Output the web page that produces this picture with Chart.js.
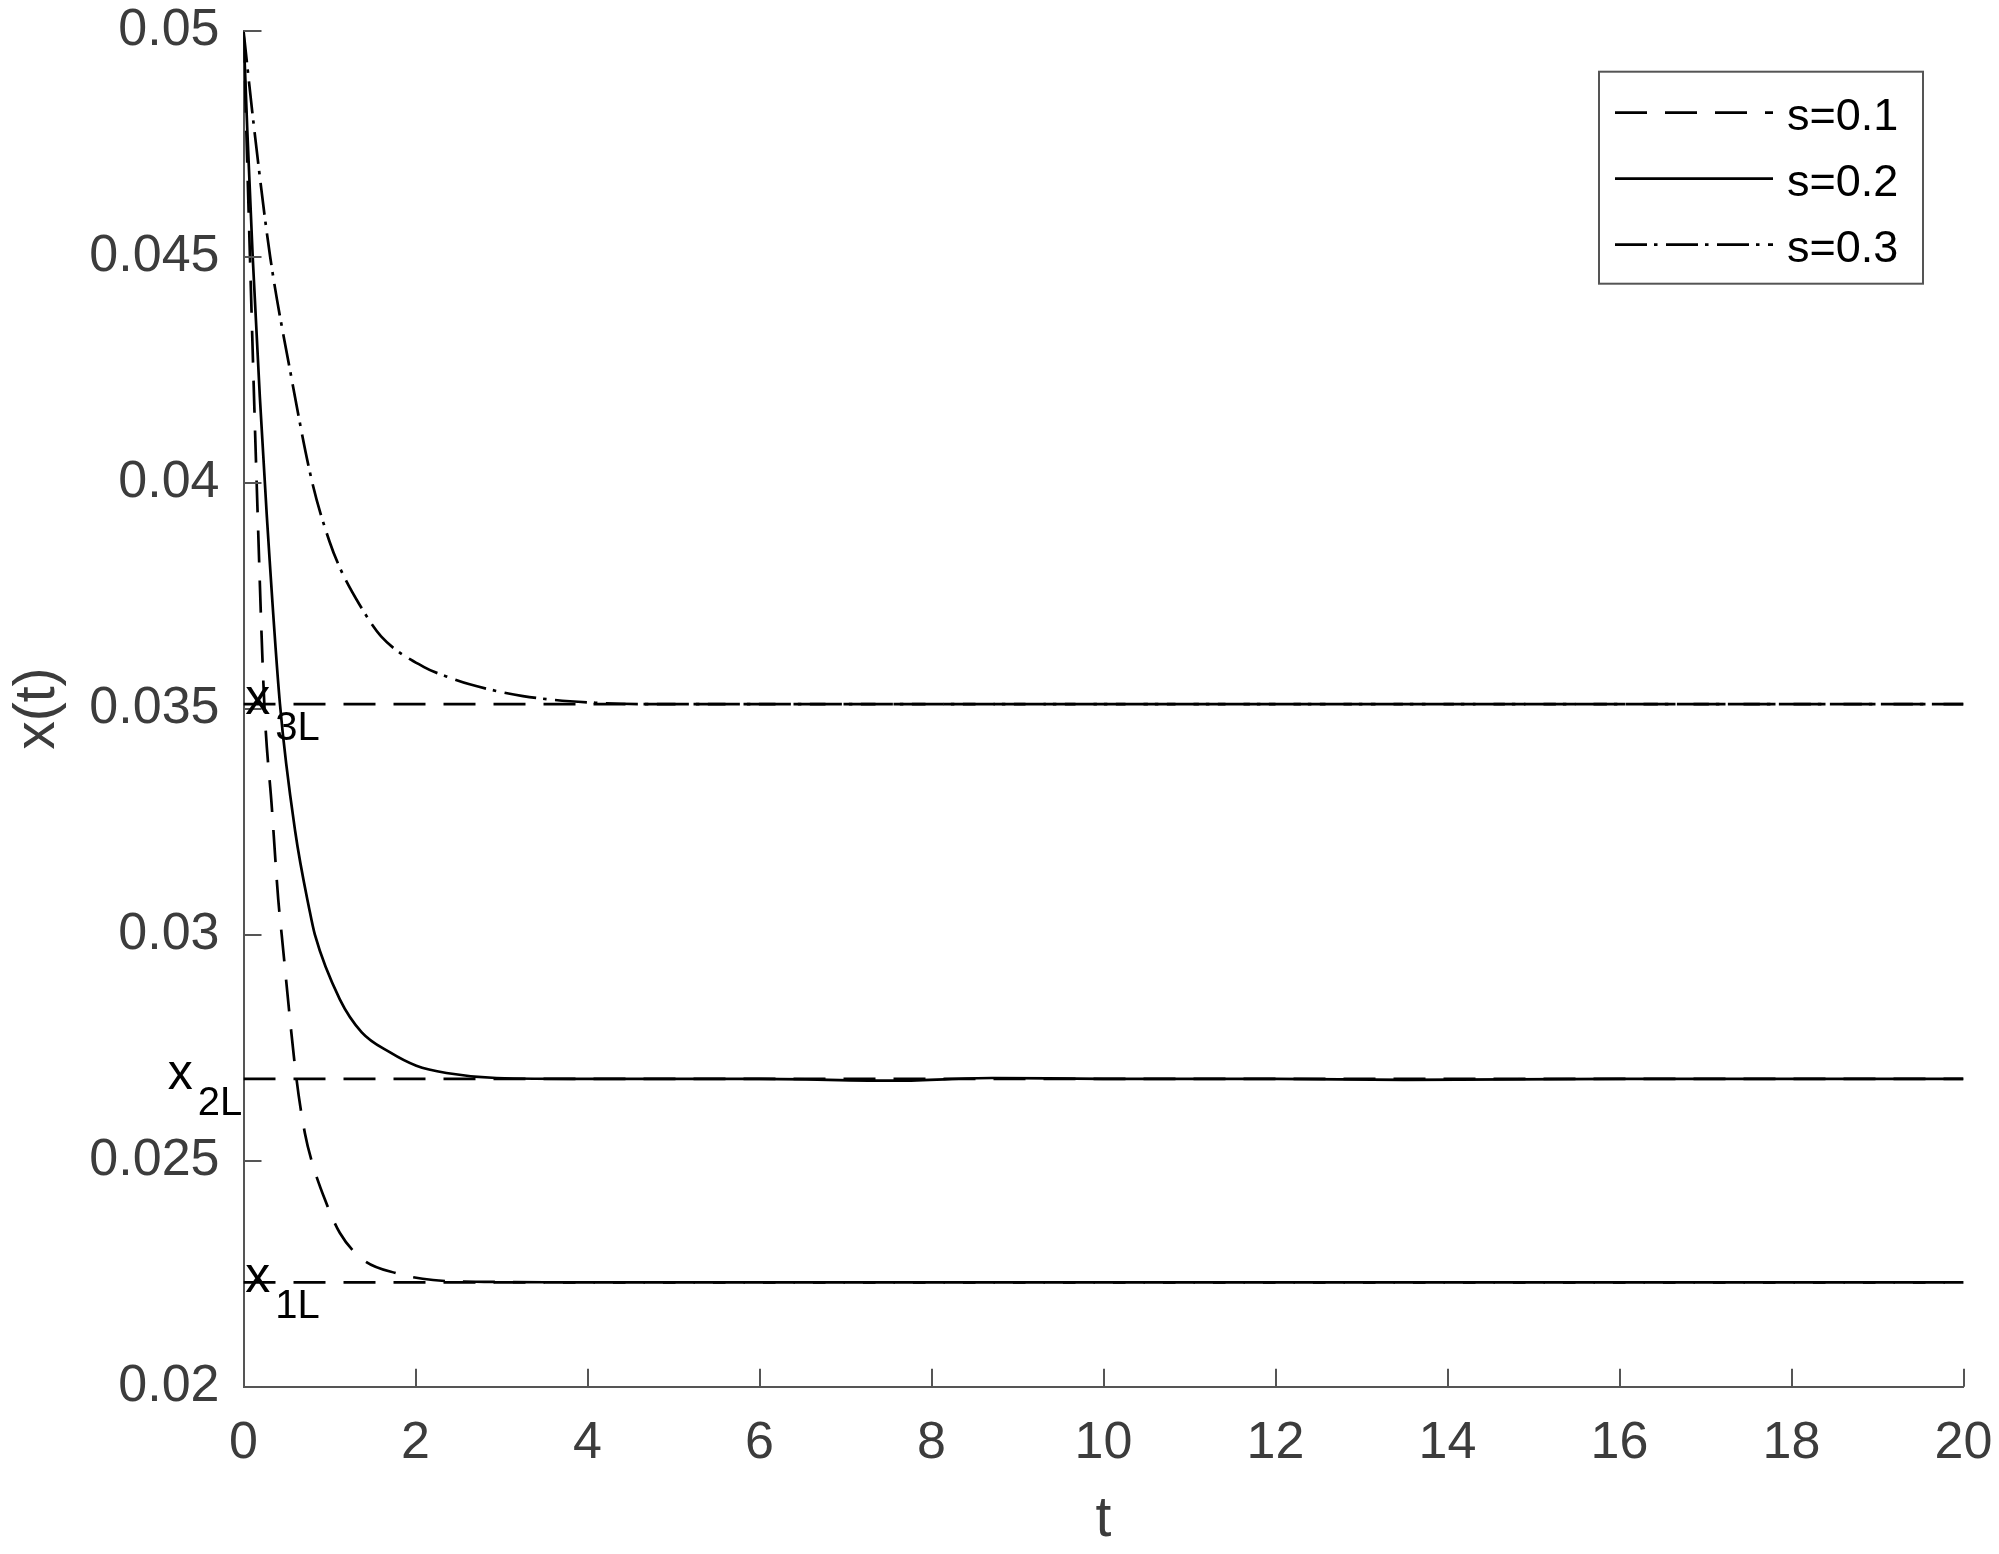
<!DOCTYPE html>
<html>
<head>
<meta charset="utf-8">
<script src="https://cdn.jsdelivr.net/npm/chart.js@4.4.0/dist/chart.umd.min.js"></script>
<style>
html, body { margin: 0; padding: 0; background: #fff; }
#wrap { width: 1999px; height: 1554px; }
</style>
</head>
<body>
<div id="wrap"><canvas id="myChart" width="1999" height="1554"></canvas></div>
<script>
// readings taken off the figure: t and x(t) for each s
const t01 = [0, 0.075, 0.153, 0.242, 0.33, 0.404, 0.444, 0.616, 0.714, 0.792, 0.947, 1.121, 1.391, 1.779, 2.204, 2.8, 4, 6, 8, 10, 12, 14, 16, 18, 20];
const x01 = [0.05, 0.045, 0.04, 0.0351, 0.0328, 0.03078, 0.0300, 0.02681, 0.02561, 0.0250, 0.02414, 0.0234, 0.02281, 0.02251, 0.02236, 0.02232, 0.02231, 0.02231, 0.02231, 0.02231, 0.02231, 0.02231, 0.02231, 0.02231, 0.02231];

const t02 = [0, 0.044, 0.107, 0.19, 0.27, 0.424, 0.6, 0.772, 0.83, 1.12, 1.375, 1.70, 2.01, 2.36, 2.94, 4, 6, 7.6, 8.7, 10, 12, 13.5, 16, 18, 20];
const x02 = [0.05, 0.0478, 0.045, 0.0419, 0.0393, 0.0351, 0.0323, 0.0305, 0.0300, 0.02857, 0.02784, 0.0274, 0.0271, 0.02694, 0.02683, 0.02681, 0.02681, 0.02677, 0.02683, 0.02681, 0.02681, 0.02679, 0.02681, 0.02681, 0.02681];

const t03 = [0, 0.12, 0.31, 0.54, 0.80, 1.0, 1.125, 1.35, 1.6, 2.1, 2.35, 2.63, 3.25, 4.1, 5, 6, 8, 10, 12, 14, 16, 18, 20];
const x03 = [0.05, 0.0479, 0.045, 0.0425, 0.0400, 0.0387, 0.0381, 0.0373, 0.0366, 0.03592, 0.03572, 0.03554, 0.03528, 0.03513, 0.0351, 0.0351, 0.0351, 0.0351, 0.0351, 0.0351, 0.0351, 0.0351, 0.0351];

const seriesNames = ['s=0.1', 's=0.2', 's=0.3'];

// steady levels x1L, x2L, x3L
const limitNames = ['1L', '2L', '3L'];
const limitValues = [0.02231, 0.02681, 0.0351];
const limitSpan = [0, 20];
const limitLabelT = [0.02, -0.88, 0.02];

const xTicks = [0, 2, 4, 6, 8, 10, 12, 14, 16, 18, 20];
const yTicks = [0.02, 0.025, 0.03, 0.035, 0.04, 0.045, 0.05];
const yTickLabels = ['0.02', '0.025', '0.03', '0.035', '0.04', '0.045', '0.05'];

const FONT = '"Liberation Sans", Arial, sans-serif';
const DASH = [32, 18];
const DASHDOT = [32, 7, 3.5, 8.5];
const LW = 2.7;

function toPoints(ts, vs) {
    return ts.map((t, i) => ({x: t, y: vs[i]}));
}

var datasets = [];
limitValues.forEach((v) => {
    datasets.push({
        label: '',
        data: limitSpan.map((t) => ({x: t, y: v})),
        borderColor: '#000',
        borderWidth: LW,
        borderDash: DASH,
        pointRadius: 0,
        isLimit: true
    });
});
[[t01, x01, DASH], [t02, x02, []], [t03, x03, DASHDOT]].forEach((s, i) => {
    datasets.push({
        label: seriesNames[i],
        data: toPoints(s[0], s[1]),
        borderColor: '#000',
        borderWidth: LW,
        borderDash: s[2],
        pointRadius: 0,
        cubicInterpolationMode: 'monotone'
    });
});

const axisDecor = {
    id: 'axisDecor',
    afterDatasetsDraw(chart) {
        const ctx = chart.ctx;
        const xs = chart.scales.x, ys = chart.scales.y;
        const area = chart.chartArea;
        ctx.save();
        // inward tick marks
        ctx.strokeStyle = '#555';
        ctx.lineWidth = 2;
        ctx.setLineDash([]);
        ctx.beginPath();
        xTicks.forEach((v) => {
            const px = Math.round(xs.getPixelForValue(v));
            ctx.moveTo(px, area.bottom);
            ctx.lineTo(px, area.bottom - 18);
        });
        yTicks.forEach((v) => {
            const py = Math.round(ys.getPixelForValue(v));
            ctx.moveTo(area.left, py);
            ctx.lineTo(area.left + 18, py);
        });
        ctx.stroke();

        // x_1L, x_2L, x_3L labels
        ctx.fillStyle = '#000';
        ctx.textAlign = 'left';
        ctx.textBaseline = 'alphabetic';
        limitValues.forEach((v, i) => {
            const px = xs.getPixelForValue(limitLabelT[i]);
            const py = ys.getPixelForValue(v);
            ctx.font = '50px ' + FONT;
            ctx.fillText('x', px, py + 10);
            ctx.font = '40px ' + FONT;
            ctx.fillText(limitNames[i], px + 30, py + 36);
        });

        // legend box (top right, inside axes)
        const bw = 324, bh = 212;
        const bx = area.right - 40.5 - bw;
        const by = area.top + 41;
        ctx.strokeStyle = '#555';
        ctx.lineWidth = 2;
        ctx.fillStyle = '#fff';
        ctx.fillRect(bx, by, bw, bh);
        ctx.strokeRect(bx, by, bw, bh);
        const rows = [41, 107, 173];
        chart.data.datasets.filter((d) => !d.isLimit).forEach((d, i) => {
            const ry = by + rows[i];
            ctx.strokeStyle = '#000';
            ctx.lineWidth = LW;
            ctx.setLineDash(d.borderDash);
            ctx.beginPath();
            ctx.moveTo(bx + 16, ry);
            ctx.lineTo(bx + 174, ry);
            ctx.stroke();
            ctx.setLineDash([]);
            ctx.fillStyle = '#000';
            ctx.font = '45px ' + FONT;
            ctx.fillText(d.label, bx + 188, ry + 17);
        });
        ctx.restore();
    }
};

const ctx = document.getElementById('myChart');
const myChart = new Chart(ctx, {
    type: 'line',
    data: { datasets: datasets },
    options: {
        responsive: false,
        animation: false,
        devicePixelRatio: 1,
        layout: { padding: { left: 0, right: 35.5, top: 30.7, bottom: 0 } },
        plugins: {
            legend: { display: false },
            tooltip: { enabled: false }
        },
        scales: {
            x: {
                type: 'linear',
                min: 0,
                max: 20,
                afterBuildTicks: (scale) => { scale.ticks = xTicks.map((v) => ({value: v})); },
                afterFit: (scale) => {
                    scale.height = 1554 - 1386.7;
                    scale.paddingLeft = 0; scale.paddingRight = 0;
                },
                grid: { display: false, drawTicks: false },
                border: { display: true, color: '#555', width: 2 },
                ticks: {
                    padding: 26,
                    color: '#3c3c3c',
                    font: { family: FONT, size: 52 },
                    maxRotation: 0,
                    callback: (v) => String(v)
                },
                title: {
                    display: true,
                    text: 't',
                    color: '#3c3c3c',
                    font: { family: FONT, size: 57 },
                    padding: { top: 0, bottom: 0 }
                }
            },
            y: {
                min: 0.02,
                max: 0.05,
                afterBuildTicks: (scale) => { scale.ticks = yTicks.map((v) => ({value: v})); },
                afterFit: (scale) => {
                    scale.width = 243.5;
                    scale.paddingTop = 0; scale.paddingBottom = 0;
                },
                grid: { display: false, drawTicks: false },
                border: { display: true, color: '#555', width: 2 },
                ticks: {
                    padding: 24,
                    color: '#3c3c3c',
                    font: { family: FONT, size: 52 },
                    callback: (v) => {
                        const k = yTicks.findIndex((y) => Math.abs(y - v) < 1e-9);
                        return k >= 0 ? yTickLabels[k] : '';
                    }
                },
                title: {
                    display: true,
                    text: 'x(t)',
                    color: '#3c3c3c',
                    font: { family: FONT, size: 57 },
                    padding: { top: 4, bottom: 0 }
                }
            }
        }
    },
    plugins: [axisDecor]
});
</script>
</body>
</html>
